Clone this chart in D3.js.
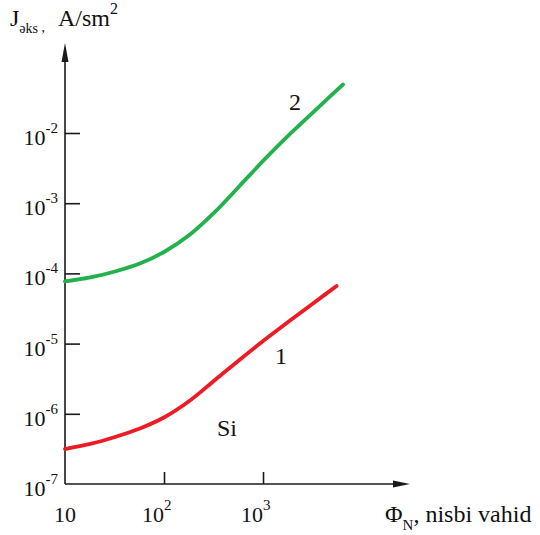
<!DOCTYPE html>
<html>
<head>
<meta charset="utf-8">
<script src="https://cdn.jsdelivr.net/npm/d3@7"></script>
<style>
  html, body { margin: 0; padding: 0; background: #fff; }
  svg { display: block; }
  text { font-family: "Liberation Serif", "Times New Roman", serif; fill: #111; }
</style>
</head>
<body>
<svg id="chart" width="540" height="535"></svg>
<script>
// ---- data ----
const xTicks = [10, 100, 1000];
const xTickBase = ["10", "10", "10"];
const xTickExp = ["", "2", "3"];
const yTicks = [1e-7, 1e-6, 1e-5, 1e-4, 1e-3, 1e-2];
const yTickExp = ["-7", "-6", "-5", "-4", "-3", "-2"];

// curve 1 (red) and curve 2 (green): Φ_N (relative units) vs J (A/sm²)
const curve1Phi = [10, 18, 32, 57, 102, 183, 327, 586, 1048, 1875, 3350, 5540];
const curve1J = [3.15e-7, 3.72e-7, 4.67e-7, 6.17e-7, 9.0e-7, 1.545e-6, 3.03e-6, 5.94e-6, 1.143e-5, 2.13e-5, 3.92e-5, 6.63e-5];
const curve2Phi = [10, 18, 32, 57, 102, 183, 327, 586, 1048, 1875, 3350, 6430];
const curve2J = [7.67e-5, 8.75e-5, 1.064e-4, 1.38e-4, 2.05e-4, 3.58e-4, 7.5e-4, 1.79e-3, 4.27e-3, 9.7e-3, 2.09e-2, 4.91e-2];

const seriesNames = ["1", "2"];
const seriesColors = ["#ed1c24", "#22b14c"];

// ---- scales ----
const svg = d3.select("#chart");
const x = d3.scaleLog().domain([10, 1000]).range([65, 263]);
const y = d3.scaleLog().domain([1e-7, 1e-2]).range([484, 133]);

const x0 = x(10), y0 = y(1e-7);
const axisColor = "#1a1a1a";

// ---- axes lines with arrows ----
svg.append("line")
  .attr("x1", x0).attr("y1", y0).attr("x2", x0).attr("y2", 58)
  .attr("stroke", axisColor).attr("stroke-width", 1.6);
svg.append("path")
  .attr("d", `M${x0},43 L${x0 - 3.5},62 L${x0 + 3.5},62 Z`)
  .attr("fill", axisColor);

svg.append("line")
  .attr("x1", x0).attr("y1", y0).attr("x2", 396).attr("y2", y0)
  .attr("stroke", axisColor).attr("stroke-width", 1.6);
svg.append("path")
  .attr("d", `M410,${y0} L393,${y0 - 3.5} L393,${y0 + 3.5} Z`)
  .attr("fill", axisColor);

// ---- ticks via d3 axes ----
const yAxis = d3.axisLeft(y).tickValues(yTicks.slice(1)).tickSize(-15).tickFormat("");
const gy = svg.append("g").attr("transform", `translate(${x0},0)`).call(yAxis);
gy.select(".domain").remove();
gy.selectAll(".tick line").attr("stroke", axisColor).attr("stroke-width", 1.6);

const xAxis = d3.axisBottom(x).tickValues(xTicks.slice(1)).tickSize(-12).tickFormat("");
const gx = svg.append("g").attr("transform", `translate(0,${y0})`).call(xAxis);
gx.select(".domain").remove();
gx.selectAll(".tick line").attr("stroke", axisColor).attr("stroke-width", 1.6);

// ---- y tick labels ----
yTicks.forEach((v, i) => {
  const t = svg.append("text")
    .attr("x", 58).attr("y", y(v) + 12)
    .attr("text-anchor", "end")
    .attr("font-size", 22);
  t.append("tspan").text("10");
  t.append("tspan").attr("font-size", 15).attr("dy", -12).text(yTickExp[i]);
});

// ---- x tick labels ----
xTicks.forEach((v, i) => {
  const t = svg.append("text")
    .attr("y", 522)
    .attr("font-size", 22);
  if (xTickExp[i] === "") {
    t.attr("x", x(v)).attr("text-anchor", "middle").text(xTickBase[i]);
  } else {
    t.attr("x", x(v) - 22).attr("text-anchor", "start");
    t.append("tspan").text(xTickBase[i]);
    t.append("tspan").attr("font-size", 15).attr("dy", -12).text(xTickExp[i]);
  }
});

// ---- curves ----
const line = d3.line()
  .x(d => x(d[0]))
  .y(d => y(d[1]))
  .curve(d3.curveCatmullRom.alpha(0.5));

const s1 = curve1Phi.map((p, i) => [p, curve1J[i]]);
const s2 = curve2Phi.map((p, i) => [p, curve2J[i]]);

[s1, s2].forEach((s, i) => {
  svg.append("path")
    .datum(s)
    .attr("d", line)
    .attr("fill", "none")
    .attr("stroke", seriesColors[i])
    .attr("stroke-width", 3.8)
    .attr("stroke-linecap", "round");
});

// ---- curve labels ----
svg.append("text").attr("x", 295).attr("y", 110).attr("text-anchor", "middle")
  .attr("font-size", 24).text(seriesNames[1]);
svg.append("text").attr("x", 281).attr("y", 364).attr("text-anchor", "middle")
  .attr("font-size", 24).text(seriesNames[0]);
svg.append("text").attr("x", 227).attr("y", 436).attr("text-anchor", "middle")
  .attr("font-size", 24).text("Si");

// ---- axis titles ----
const yt = svg.append("text").attr("x", 10).attr("y", 26).attr("font-size", 24);
yt.append("tspan").text("J");
yt.append("tspan").attr("font-size", 14).attr("dy", 7).text("əks");
yt.append("tspan").attr("font-size", 14).attr("dy", -1).text(" ,");
yt.append("tspan").attr("x", 58).attr("dy", -6).text("A/sm");
yt.append("tspan").attr("font-size", 16).attr("dy", -12).text("2");

const xt = svg.append("text").attr("x", 385).attr("y", 522).attr("font-size", 24);
xt.append("tspan").text("Φ");
xt.append("tspan").attr("font-size", 15).attr("dy", 8).text("N");
xt.append("tspan").attr("dy", -8).text(", nisbi vahid");
</script>
</body>
</html>
